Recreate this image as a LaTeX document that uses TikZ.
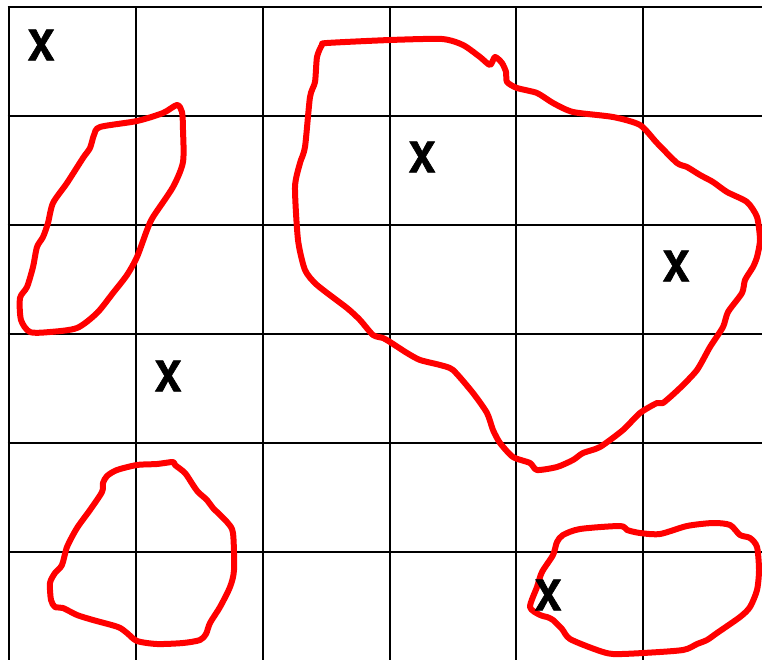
\documentclass[tikz,border=0pt]{standalone}
\usepackage{fontspec}
\usepackage{graphicx}
\setmainfont{TeX Gyre Heros}
\newfontfamily\xfont{TeX Gyre Heros}[FakeBold=1.5]
\newcommand{\xmk}{\scalebox{0.97}[1]{\bfseries X}}
\begin{document}
\begin{tikzpicture}[x=1pt,y=-1pt,
  gridline/.style={black,line width=2.8pt},
  blob/.style={red,line width=6pt,line join=round,line cap=round},
  xlabel/.style={font=\xfont\fontsize{42}{42}\selectfont,inner sep=0pt,text=black}]
\useasboundingbox (0,0) rectangle (762,660);
\fill[white] (0,0) rectangle (762,660);
% grid
\foreach \x in {9,136,263,390,516,643} \draw[gridline] (\x,7) -- (\x,662);
\foreach \y in {7,116,225,334,443,552} \draw[gridline] (7.6,\y) -- (764,\y);
% blob 1 (left tall)
\draw[blob] plot[smooth cycle,tension=0.45] coordinates {
 (177,105) (163,113) (137,121) (100,127) (94,135) (90,148) (83,158) (67,183) (53,203)
 (48,223) (43,237) (37,247) (33,267) (27,287) (20,298) (21,320) (30,332) (50,332)
 (77,328) (97,313) (113,293) (127,275) (137,257) (147,230) (153,217) (173,187)
 (183,162) (183,130) (182,112)};
% blob 2 (big)
\draw[blob] plot[smooth cycle,tension=0.4] coordinates {
 (327,43) (390,40) (442,39) (463,45) (480,57) (490,65) (495,57) (502,63) (506,72)
 (507,82) (517,88) (537,93) (553,103) (573,112) (613,117) (640,125) (657,143)
 (677,163) (687,167) (700,175) (713,182) (727,192) (747,202) (757,217) (760,240)
 (757,257) (753,267) (745,280) (742,293) (728,312) (723,327) (710,347) (697,370)
 (680,388) (663,403) (657,403) (640,413) (623,430) (600,447) (583,453) (573,460)
 (557,467) (537,470) (530,463) (513,457) (500,443) (493,430) (487,413) (473,393)
 (453,370) (440,365) (420,360) (407,353) (390,342) (383,338) (373,335) (360,320)
 (347,308) (317,285) (305,270) (298,240) (295,187) (300,163) (305,147) (310,97)
 (315,82) (317,57) (322,45)};
% blob 3 (bottom left)
\draw[blob] plot[smooth cycle,tension=0.45] coordinates {
 (173,462) (157,464) (137,465) (117,470) (107,476) (103,483) (102,492) (90,510)
 (77,528) (67,547) (62,565) (55,573) (50,583) (51,600) (55,607) (63,608) (77,615)
 (93,620) (118,627) (127,633) (137,641) (157,644) (183,643) (200,640) (206,634)
 (210,623) (220,607) (230,587) (234,570) (233,533) (227,522) (213,508) (207,500)
 (198,492) (193,485) (185,473) (175,465)};
% blob 4 (bottom right)
\draw[blob] plot[smooth cycle,tension=0.45] coordinates {
 (530,607) (537,587) (542,572) (553,555) (557,542) (563,535) (580,529) (620,526)
 (627,530) (640,533) (660,534) (687,526) (713,523) (730,525) (740,535) (750,538)
 (757,547) (759,570) (757,590) (750,607) (740,617) (717,633) (707,640) (697,644)
 (683,650) (643,653) (613,654) (597,650) (570,639) (562,629) (553,620) (547,617)
 (540,615)};
% labels
\node[xlabel] (x1) at (41,45) {\xmk};
\node[xlabel] (x2) at (422,157) {\xmk};
\node[xlabel] (x3) at (676,266) {\xmk};
\node[xlabel] (x4) at (168,376) {\xmk};
\node[xlabel] (x5) at (548,595) {\xmk};
\end{tikzpicture}
\end{document}
